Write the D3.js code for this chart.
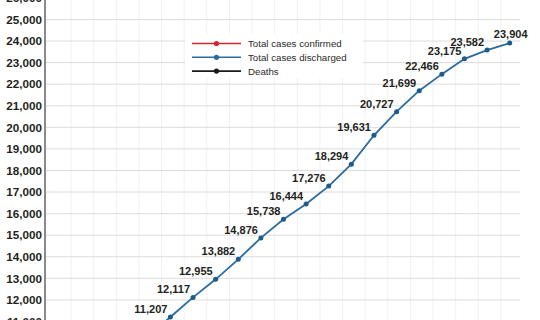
<!DOCTYPE html>
<meta charset="utf-8">
<style>
  body { margin: 0; background: #fff; }
  svg { display: block; }
  .ylab { font-family: "Liberation Sans", Arial, sans-serif; font-weight: bold; font-size: 11.7px; fill: #231f20; }
  .vlab { font-family: "Liberation Sans", Arial, sans-serif; font-weight: bold; font-size: 11px; fill: #231f20; }
  .leg { font-family: "Liberation Sans", Arial, sans-serif; font-size: 9.7px; fill: #2b2b2b; }
</style>
<body>
<script src="https://d3js.org/d3.v7.min.js"></script>
<script>
// days along the x axis (labels fall below the visible area)
const days = d3.range(1, 22).map(d => 'Day ' + d);

// total cases discharged; earliest values are off the picture
const discharged = [null, null, null, null, 10300,
  11207, 12117, 12955, 13882, 14876, 15738, 16444, 17276, 18294,
  19631, 20727, 21699, 22466, 23175, 23582, 23904];

const yTicks = [11000, 12000, 13000, 14000, 15000, 16000, 17000, 18000,
  19000, 20000, 21000, 22000, 23000, 24000, 25000, 26000];

const legendNames = ['Total cases confirmed', 'Total cases discharged', 'Deaths'];
const legendColors = ['#d7262e', '#2a6b9f', '#1a1a1a'];

const width = 540;
const height = 320;
const format = d3.format(',');

const svg = d3.select('body')
  .append('svg')
  .attr('width', width)
  .attr('height', height);

const x = d3.scaleBand()
  .domain(days)
  .range([46, 521]);

const y = d3.scaleLinear()
  .domain([11000, 26000])
  .range([321.5, -2.1]);

// vertical grid
svg.append('g')
  .selectAll('line')
  .data(days.slice(1))
  .enter().append('line')
    .attr('x1', d => x(d) + 2.5)
    .attr('x2', d => x(d) + 2.5)
    .attr('y1', 0)
    .attr('y2', height)
    .style('stroke', '#f1f1f1')
    .style('stroke-width', 1);

// horizontal grid
svg.append('g')
  .selectAll('line')
  .data(yTicks)
  .enter().append('line')
    .attr('x1', 46)
    .attr('x2', 520)
    .attr('y1', d => y(d))
    .attr('y2', d => y(d))
    .style('stroke', '#dcdcdc')
    .style('stroke-width', 1);

// y axis
const yAxis = d3.axisLeft(y)
  .tickValues(yTicks)
  .tickSize(0)
  .tickPadding(3)
  .tickFormat(format);

const ya = svg.append('g')
  .attr('transform', 'translate(45,0)')
  .call(yAxis);
ya.select('.domain').remove();
ya.selectAll('text').attr('class', 'ylab').attr('font-size', null).attr('font-family', null);

svg.append('line')
  .attr('x1', 45).attr('x2', 45)
  .attr('y1', 0).attr('y2', height)
  .style('stroke', '#8a8a8a')
  .style('stroke-width', 2);

// legend
const legend = svg.append('g');
legend.append('rect')
  .attr('x', 185).attr('y', 34)
  .attr('width', 178).attr('height', 44)
  .style('fill', '#fff');

const rows = legend.selectAll('g.row')
  .data(legendNames)
  .enter().append('g')
    .attr('class', 'row')
    .attr('transform', (d, i) => `translate(0,${43.5 + i * 13.8})`);
rows.append('line')
  .attr('x1', 192).attr('x2', 241)
  .style('stroke', (d, i) => legendColors[i])
  .style('stroke-width', 1.6);
rows.append('circle')
  .attr('cx', 216.5).attr('r', 2.6)
  .style('fill', (d, i) => legendColors[i]);
rows.append('text')
  .attr('class', 'leg')
  .attr('x', 248)
  .attr('dy', '0.35em')
  .text(d => d);

// discharged line
const pts = days.map((d, i) => ({day: d, value: discharged[i]}))
  .filter(d => d.value != null);
const cx = d => x(d.day) + x.bandwidth() / 2;

svg.append('path')
  .datum(pts)
  .attr('d', d3.line().x(cx).y(d => y(d.value)))
  .style('fill', 'none')
  .style('stroke', '#2a6b9f')
  .style('stroke-width', 1.8);

svg.append('g')
  .selectAll('circle')
  .data(pts)
  .enter().append('circle')
    .attr('cx', cx)
    .attr('cy', d => y(d.value))
    .attr('r', 2.5)
    .style('fill', '#1f5a8c');

const last = pts[pts.length - 1];
svg.append('g')
  .selectAll('text')
  .data(pts.slice(1))
  .enter().append('text')
    .attr('class', 'vlab')
    .attr('x', d => d === last ? cx(d) + 1 : cx(d) - 3)
    .attr('y', d => d === last ? y(d.value) - 5 : y(d.value) - 4)
    .attr('text-anchor', d => d === last ? 'middle' : 'end')
    .text(d => format(d.value));
</script>
</body>
</html>
